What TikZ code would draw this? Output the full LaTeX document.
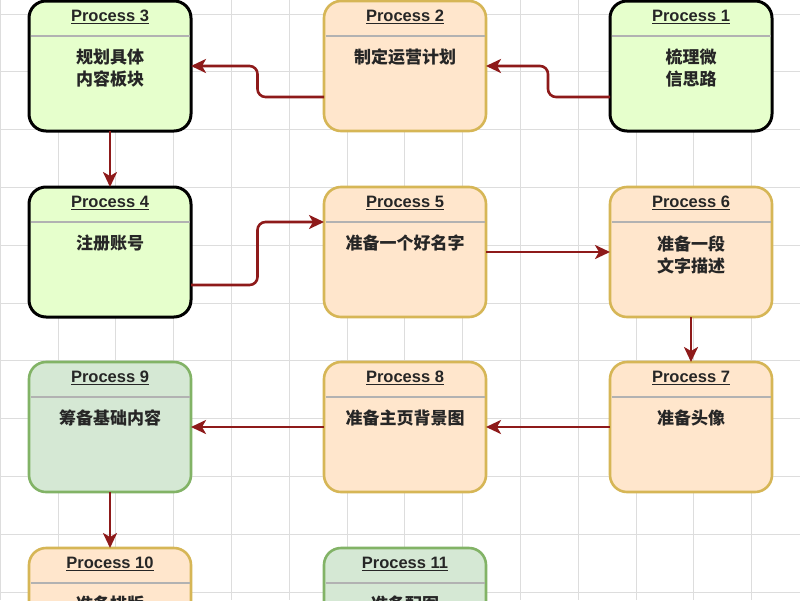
\documentclass[tikz,border=0pt]{standalone}
\usepackage{fontspec}
\setmainfont{Liberation Sans}
\newfontfamily\cjk{Noto Sans CJK SC}
\usetikzlibrary{arrows.meta,calc}
\definecolor{limefill}{HTML}{E6FFCC}
\definecolor{ofill}{HTML}{FFE6CC}
\definecolor{oborder}{HTML}{D6B656}
\definecolor{sfill}{HTML}{D5E8D4}
\definecolor{sborder}{HTML}{82B366}
\definecolor{arrowred}{HTML}{8E1A1A}
\definecolor{gridc}{HTML}{DDDDDD}
\tikzset{
 box/.style={rectangle, rounded corners=17pt, minimum width=162pt, minimum height=130pt, outer sep=0pt, inner sep=0pt},
 gbox/.style={box, draw=black, fill=limefill, line width=3pt},
 obox/.style={box, draw=oborder, fill=ofill, line width=2.6pt},
 sbox/.style={box, draw=sborder, fill=sfill, line width=2.6pt},
 hdr/.style={draw=black!30, line width=1.2pt, shorten <=1.5pt, shorten >=1.5pt},
 ptitle/.style={font=\bfseries\fontsize{16.5}{18}\selectfont, text=black!85, inner sep=0pt},
 pbody/.style={font=\cjk\bfseries\fontsize{17}{22}\selectfont, align=center, anchor=north, inner sep=0pt, text=black!85},
 conn/.style={draw=arrowred, line width=2.6pt, rounded corners=8pt, -{Stealth[length=15pt,width=14pt,inset=4pt]}}
}
\newcommand\procbox[6]{%
 \node[#2] (#1) at (#3,#4) {};
 \draw[hdr] ($(#1.north west)+(0,35)$) -- ($(#1.north east)+(0,35)$);
 \node[ptitle] (#1t) at ($(#1.north)+(0,16)$) {\underline{#5}};
 \node[pbody] (#1b) at ($(#1.north)+(0,48)$) {#6};
}
\begin{document}
\begin{tikzpicture}[x=1pt,y=-1pt]
\useasboundingbox (0,0) rectangle (800,600);
\fill[white] (0,0) rectangle (800,600);
\begin{scope}
\clip (0,0) rectangle (800,600);
\foreach \i in {0,...,14} {\draw[gridc, line width=0.8pt] (0.2+57.8*\i,0) -- (0.2+57.8*\i,600);}
\foreach \j in {0,...,10} {\draw[gridc, line width=0.8pt] (0,14+57.8*\j) -- (800,14+57.8*\j);}
\end{scope}
\procbox{p1}{gbox}{691}{66}{Process 1}{梳理微\\信思路}
\procbox{p2}{obox}{405}{66}{Process 2}{制定运营计划}
\procbox{p3}{gbox}{110}{66}{Process 3}{规划具体\\内容板块}
\procbox{p4}{gbox}{110}{252}{Process 4}{注册账号}
\procbox{p5}{obox}{405}{252}{Process 5}{准备一个好名字}
\procbox{p6}{obox}{691}{252}{Process 6}{准备一段\\文字描述}
\procbox{p7}{obox}{691}{427}{Process 7}{准备头像}
\procbox{p8}{obox}{405}{427}{Process 8}{准备主页背景图}
\procbox{p9}{sbox}{110}{427}{Process 9}{筹备基础内容}
\procbox{p10}{obox}{110}{613}{Process 10}{准备排版}
\procbox{p11}{sbox}{405}{613}{Process 11}{准备配图}
% connectors
\coordinate (m12) at ($(p2.east)!0.5!(p1.west)$);
\coordinate (a1) at ($(p1.west)+(0,31)$);
\coordinate (e2) at (p2.east);
\draw[conn] (a1) -- (a1 -| m12) -- (e2 -| m12) -- (e2);
\coordinate (m23) at ($(p3.east)!0.5!(p2.west)$);
\coordinate (a2) at ($(p2.west)+(0,31)$);
\coordinate (e3) at (p3.east);
\draw[conn] (a2) -- (a2 -| m23) -- (e3 -| m23) -- (e3);
\draw[conn] (p3.south) -- (p4.north);
\coordinate (m45) at ($(p4.east)!0.5!(p5.west)$);
\coordinate (a4) at ($(p4.east)+(0,33)$);
\coordinate (e5) at ($(p5.west)+(0,-30)$);
\draw[conn] (a4) -- (a4 -| m45) -- (e5 -| m45) -- (e5);
\draw[conn] (p5.east) -- (p6.west);
\draw[conn] (p6.south) -- (p7.north);
\draw[conn] (p7.west) -- (p8.east);
\draw[conn] (p8.west) -- (p9.east);
\draw[conn] (p9.south) -- (p10.north);
\end{tikzpicture}
\end{document}
